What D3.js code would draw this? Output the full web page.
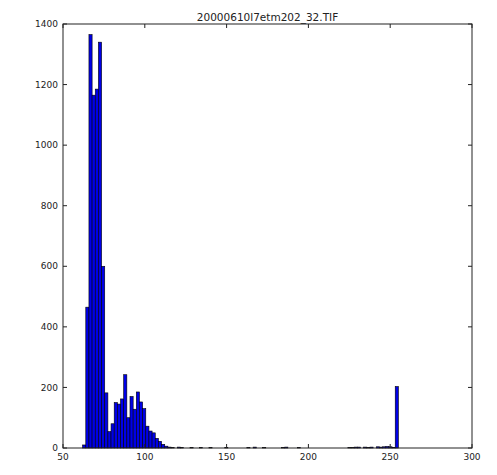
<!DOCTYPE html>
<html>
<head>
<meta charset="utf-8">
<script src="https://cdn.jsdelivr.net/npm/d3@7"></script>
<style>
  html, body { margin: 0; padding: 0; background: #fff; }
  svg { display: block; }
  text { font-family: "DejaVu Sans", sans-serif; fill: #222; }
</style>
</head>
<body>
<div id="chart"></div>
<script>
// ---- data ----
const title = "20000610l7etm202_32.TIF";
const binLow = 62;      // histogram range low
const binHigh = 255;    // histogram range high
const binCount = 100;
// counts per bin (100 bins from 62 to 255)
const counts = [
  10, 465, 1365, 1165, 1185, 1340, 600, 182, 54, 80,
  150, 145, 162, 242, 100, 170, 128, 185, 152, 130,
  72, 56, 50, 32, 22, 12, 6, 3, 1, 0,
  3, 1, 0, 0, 1, 0, 0, 1, 0, 0,
  1, 0, 0, 0, 0, 1, 0, 0, 0, 0,
  0, 0, 1, 0, 3, 0, 0, 1, 0, 0,
  0, 0, 0, 1, 3, 0, 0, 0, 1, 0,
  0, 0, 0, 0, 0, 0, 0, 0, 0, 0,
  0, 0, 0, 0, 1, 1, 3, 3, 0, 3,
  1, 3, 0, 4, 3, 4, 5, 4, 2, 203
];
const xTicks = [50, 100, 150, 200, 250, 300];
const yTicks = [0, 200, 400, 600, 800, 1000, 1200, 1400];

// ---- layout ----
const W = 497, H = 475;
const m = { left: 63, right: 25, top: 24, bottom: 27 };
const iw = W - m.left - m.right, ih = H - m.top - m.bottom;

const svg = d3.select("#chart").append("svg").attr("width", W).attr("height", H);
const g = svg.append("g").attr("transform", `translate(${m.left},${m.top})`);

const x = d3.scaleLinear().domain([50, 300]).range([0, iw]);
const y = d3.scaleLinear().domain([0, 1400]).range([ih, 0]);

const binW = (binHigh - binLow) / binCount;
const bins = counts.map((c, i) => ({ x0: binLow + i * binW, x1: binLow + (i + 1) * binW, c }));

g.append("g").selectAll("rect").data(bins).join("rect")
  .attr("x", d => x(d.x0))
  .attr("width", d => x(d.x1) - x(d.x0))
  .attr("y", d => y(d.c))
  .attr("height", d => y(0) - y(d.c))
  .attr("fill", "#0000e6")
  .attr("stroke", "#000")
  .attr("stroke-width", 0.6);

// frame
g.append("rect").attr("x", 0).attr("y", 0).attr("width", iw).attr("height", ih)
  .attr("fill", "none").attr("stroke", "#222").attr("stroke-width", 1);

const tl = 4;
// x ticks (inside, bottom & top)
const xa = g.append("g");
xTicks.forEach(t => {
  xa.append("line").attr("x1", x(t)).attr("x2", x(t)).attr("y1", ih).attr("y2", ih - tl).attr("stroke", "#222");
  xa.append("line").attr("x1", x(t)).attr("x2", x(t)).attr("y1", 0).attr("y2", tl).attr("stroke", "#222");
  xa.append("text").attr("x", x(t)).attr("y", ih + 12).attr("text-anchor", "middle")
    .attr("font-size", 9).text(t);
});
// y ticks (inside, left & right)
const ya = g.append("g");
yTicks.forEach(t => {
  ya.append("line").attr("x1", 0).attr("x2", tl).attr("y1", y(t)).attr("y2", y(t)).attr("stroke", "#222");
  ya.append("line").attr("x1", iw).attr("x2", iw - tl).attr("y1", y(t)).attr("y2", y(t)).attr("stroke", "#222");
  ya.append("text").attr("x", -5).attr("y", y(t)).attr("dy", "0.35em").attr("text-anchor", "end")
    .attr("font-size", 9).text(t);
});

svg.append("text").attr("x", m.left + iw / 2).attr("y", 21).attr("text-anchor", "middle")
  .attr("font-size", 10.5).text(title);
</script>
</body>
</html>
